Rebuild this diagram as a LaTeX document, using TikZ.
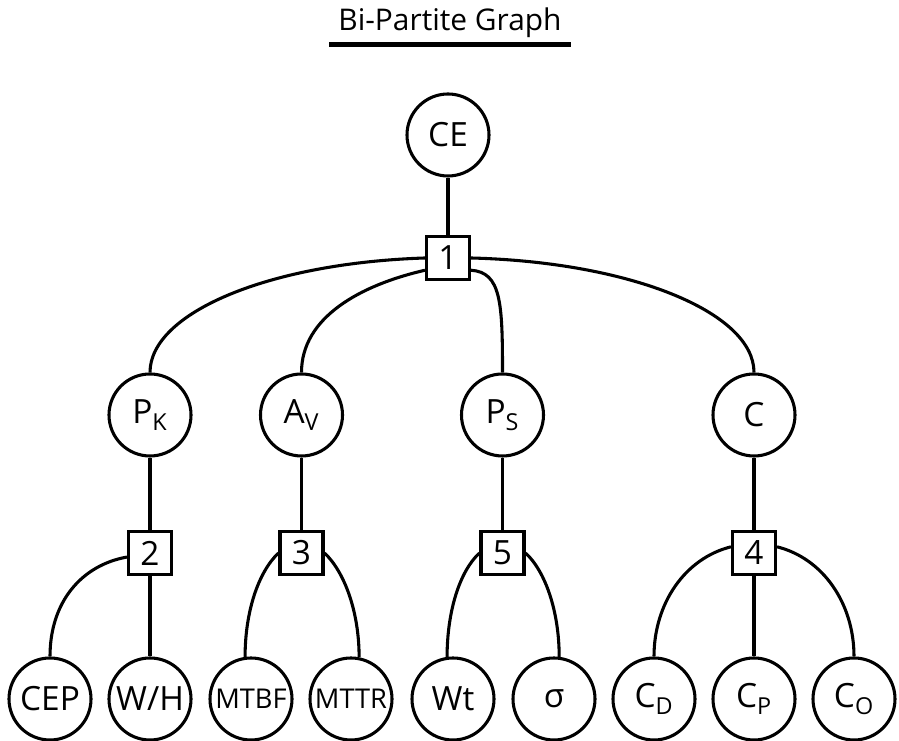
\documentclass[tikz,border=0pt]{standalone}
\usepackage{fontspec}
\setmainfont{Open Sans}

\begin{document}
\begin{tikzpicture}[line width=1.75pt,
  vnode/.style={draw,circle,minimum size=1.64cm,inner sep=0pt,font=\fontsize{19}{22}\selectfont},
  fbox/.style={draw,fill=white,minimum size=0.86cm,inner sep=0pt,font=\fontsize{19}{22}\selectfont},
  smalllab/.style={font=\fontsize{15.5}{18}\selectfont}]
\useasboundingbox (0,0) rectangle (17.98,14.82);
\node[inner sep=0pt,font=\fontsize{17}{20}\selectfont] (title) at (9.0,14.36) {Bi-Partite Graph};
\draw[line width=2.9pt] ([xshift=-0.15cm,yshift=-0.1cm]title.south west) -- ([xshift=0.15cm,yshift=-0.1cm]title.south east);
\node[vnode] (ce) at (8.96,12.12) {CE};
\node[fbox] (b1) at (8.96,9.66) {1};
\node[vnode] (pk) at (3.0,6.52) {P\textsubscript{K}};
\node[vnode] (av) at (6.03,6.52) {A\textsubscript{V}};
\node[vnode] (ps) at (10.05,6.52) {P\textsubscript{S}};
\node[vnode] (cc) at (15.08,6.52) {C};
\node[fbox] (b2) at (3.0,3.76) {2};
\node[fbox] (b3) at (6.03,3.76) {3};
\node[fbox] (b5) at (10.05,3.76) {5};
\node[fbox] (b4) at (15.08,3.76) {4};
\node[vnode] (cep) at (1.0,0.84) {CEP};
\node[vnode] (wh) at (3.0,0.84) {W/H};
\node[vnode,smalllab] (mtbf) at (5.02,0.84) {MTBF};
\node[vnode,smalllab] (mttr) at (7.02,0.84) {MTTR};
\node[vnode] (wt) at (9.06,0.84) {Wt};
\node[vnode] (sig) at (11.08,0.84) {σ};
\node[vnode] (cd) at (13.08,0.84) {C\textsubscript{D}};
\node[vnode] (cpp) at (15.08,0.84) {C\textsubscript{P}};
\node[vnode] (co) at (17.08,0.84) {C\textsubscript{O}};
\draw (ce) -- (b1);
\draw (b1.west) .. controls +(-3.13,-0.1) and +(0,1.19) .. (pk.north);
\draw (b1.208) .. controls +(-1.3,-0.3) and +(0,1.1) .. (av.north);
\draw (b1.332) .. controls +(0.6,-0.04) and +(0,1.4) .. (ps.north);
\draw (b1.east) .. controls +(3.17,-0.08) and +(0,1.21) .. (cc.north);
\draw (pk) -- (b2);
\draw (av) -- (b3);
\draw (ps) -- (b5);
\draw (cc) -- (b4);
\draw (b2.190) .. controls +(-0.9,-0.16) and +(0,1.1) .. (cep.north);
\draw (b2) -- (wh);
\draw (b3.west) .. controls +(-0.4,-0.38) and +(0,0.91) .. (mtbf.98);
\draw (b3.east) .. controls +(0.4,-0.38) and +(0,0.91) .. (mttr.79);
\draw (b5.west) .. controls +(-0.4,-0.37) and +(0,0.9) .. (wt.98);
\draw (b5.east) .. controls +(0.4,-0.37) and +(0,0.9) .. (sig.83);
\draw (b4.165) .. controls +(-0.92,-0.23) and +(0,1.06) .. (cd.north);
\draw (b4) -- (cpp);
\draw (b4.15) .. controls +(0.92,-0.23) and +(0,1.06) .. (co.north);
\end{tikzpicture}
\end{document}
